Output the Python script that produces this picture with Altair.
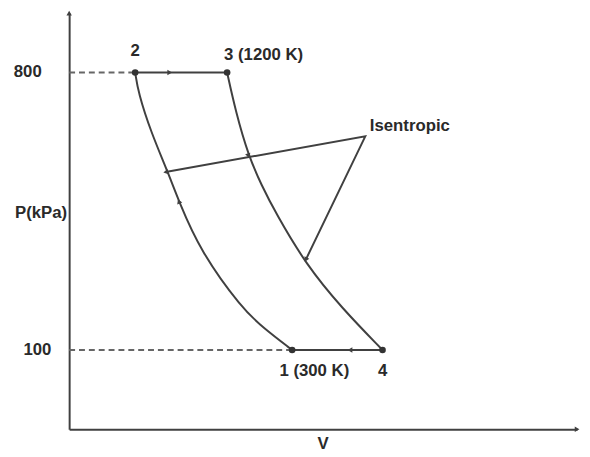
import altair as alt
import pandas as pd

# Process curves (V in arbitrary units, P in kPa)
comp_V = [1.30, 1.36, 1.61, 1.94, 2.16, 2.58, 3.40, 3.83, 4.39]   # 1 -> 2 (drawn 2..1)
comp_P = [800, 750, 650, 550, 475, 350, 205, 155, 100]
exp_V = [3.11, 3.28, 3.53, 3.79, 4.06, 4.66, 5.38, 6.17]          # 3 -> 4
exp_P = [800, 701, 590, 515, 447, 316, 204, 100]

# States
state_names = ["1", "2", "3", "4"]
state_V = [4.39, 1.30, 3.11, 6.17]
state_P = [100, 800, 800, 100]

# Leader lines of the "Isentropic" note (left end, vertex, right end)
leader_V = [1.90, 5.83, 4.66]
leader_P = [549, 639, 328]

# Dashed guides to the P axis
guide_id = ["800", "800", "100", "100"]
guide_V = [0, 1.30, 0, 4.39]
guide_P = [800, 800, 100, 100]

# Text annotations
label_text = ["800", "100", "P(kPa)", "2", "3 (1200 K)", "Isentropic", "1 (300 K)", "4", "V"]
label_V = [-0.54, -0.35, -0.04, 1.30, 3.05, 5.92, 4.14, 6.17, 5.0]
label_P = [800, 100, 445, 853, 843, 664, 47, 47, -137]
label_align = ["right", "right", "right", "center", "left", "left", "left", "center", "center"]

# Arrow heads (direction marks on processes, leader tips, axis tips)
arrow_V = [1.98, 5.53, 2.16, 3.53, 1.90, 4.66, 0, 10]
arrow_P = [800, 100, 475, 590, 549, 328, 950, -100]
arrow_dir = [90, 270, 338, 162, 260, 206, 0, 90]

INK = "#404040"
FONT = "Liberation Sans"

curves = pd.DataFrame({
    "V": comp_V + exp_V,
    "P": comp_P + exp_P,
    "proc": ["1-2"] * len(comp_V) + ["3-4"] * len(exp_V),
})
hlines = pd.DataFrame({
    "V": [state_V[1], state_V[2], state_V[0], state_V[3]],
    "P": [state_P[1], state_P[2], state_P[0], state_P[3]],
    "proc": ["2-3", "2-3", "4-1", "4-1"],
})
states = pd.DataFrame({"name": state_names, "V": state_V, "P": state_P})
leader = pd.DataFrame({"V": leader_V, "P": leader_P, "ord": list(range(len(leader_V)))})
guides = pd.DataFrame({"id": guide_id, "V": guide_V, "P": guide_P})
labels = pd.DataFrame({"text": label_text, "V": label_V, "P": label_P, "align": label_align})
arrows = pd.DataFrame({"V": arrow_V, "P": arrow_P, "dir": arrow_dir})

xs = alt.Scale(domain=[0, 10], nice=False, zero=False)
ys = alt.Scale(domain=[-100, 950], nice=False, zero=False)
X = alt.X("V:Q", scale=xs, axis=alt.Axis(title=None, labels=False, ticks=False, grid=False,
                                         domain=True, domainColor=INK, domainWidth=2))
Y = alt.Y("P:Q", scale=ys, axis=alt.Axis(title=None, labels=False, ticks=False, grid=False,
                                         domain=True, domainColor=INK, domainWidth=2))

curve_layer = alt.Chart(curves).mark_line(interpolate="basis", color=INK, strokeWidth=2).encode(
    x=X, y=Y, detail="proc:N")
hline_layer = alt.Chart(hlines).mark_line(color=INK, strokeWidth=2).encode(
    x="V:Q", y="P:Q", detail="proc:N")
guide_layer = alt.Chart(guides).mark_line(color="#666666", strokeWidth=2, strokeDash=[6, 4]).encode(
    x="V:Q", y="P:Q", detail="id:N")
leader_layer = alt.Chart(leader).mark_line(color=INK, strokeWidth=2).encode(
    x="V:Q", y="P:Q", order="ord:Q")
state_layer = alt.Chart(states).mark_circle(color="#333333", size=45, opacity=1).encode(
    x="V:Q", y="P:Q")
arrow_layer = alt.Chart(arrows).mark_point(shape="triangle-up", filled=True, color=INK,
                                           size=30, opacity=1).encode(
    x="V:Q", y="P:Q", angle=alt.Angle("dir:Q", scale=None))

text_layers = []
for a in ["left", "center", "right"]:
    text_layers.append(
        alt.Chart(labels).transform_filter(alt.datum.align == a).mark_text(
            align=a, baseline="middle", font=FONT, fontSize=17, fontWeight="bold", color="#2a2a2a"
        ).encode(x="V:Q", y="P:Q", text="text:N")
    )

chart = alt.layer(
    guide_layer, curve_layer, hline_layer, leader_layer, arrow_layer, state_layer, *text_layers
).properties(
    width=515, height=422,
    autosize=alt.AutoSizeParams(type="none"),
    padding={"left": 62, "top": 2, "right": 5, "bottom": 25},
    background="white",
).configure_view(stroke=None)

chart.save("out.html", embed_options={"renderer": "svg", "actions": False})
